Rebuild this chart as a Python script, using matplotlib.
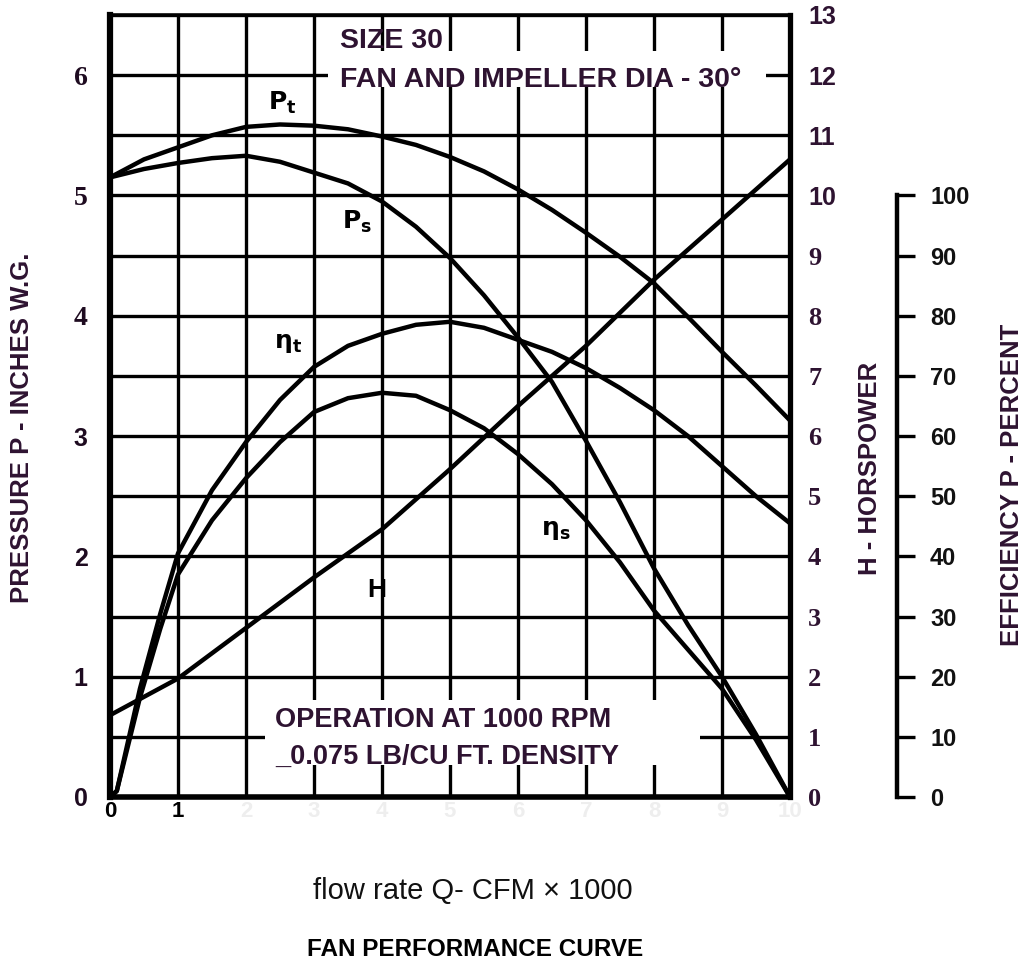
import matplotlib.pyplot as plt
import numpy as np
from matplotlib.patches import Rectangle

# flow rate, CFM x 1000
flow = [0, 0.5, 1, 1.5, 2, 2.5, 3, 3.5, 4, 4.5, 5, 5.5, 6, 6.5, 7, 7.5, 8, 8.5, 9, 9.5, 10]
# total and static pressure, inches w.g.
p_total = [5.15, 5.30, 5.40, 5.50, 5.57, 5.59, 5.58, 5.55, 5.49, 5.42, 5.32, 5.20, 5.05,
           4.88, 4.69, 4.49, 4.27, 3.99, 3.70, 3.42, 3.13]
p_static = [5.15, 5.22, 5.27, 5.31, 5.33, 5.28, 5.19, 5.10, 4.95, 4.74, 4.48, 4.17, 3.82,
            3.45, 2.96, 2.45, 1.90, 1.43, 1.00, 0.52, 0.0]

# efficiency, percent
eff_flow = [0, 0.1, 0.44, 0.74, 1, 1.5, 2, 2.5, 3, 3.5, 4, 4.5, 5, 5.5, 6, 6.5, 7, 7.5,
            8, 8.5, 9, 9.5, 10]
eff_total = [0, 1, 18, 30.5, 40.5, 51, 59, 66, 71.5, 75, 77, 78.5, 79, 78, 76, 74, 71.3,
             68, 64.3, 60, 55, 50, 45.5]
eff_static = [0, 1, 16.5, 28, 37, 46, 53, 59, 64, 66.3, 67.2, 66.7, 64.3, 61.3, 57, 52,
              46, 39, 31, 24.5, 18, 9.5, 0]

# horsepower
hp_flow = [0, 1, 2, 3, 4, 5, 6, 7, 8, 9, 10]
horsepower = [1.36, 1.97, 2.81, 3.65, 4.45, 5.45, 6.5, 7.5, 8.6, 9.6, 10.6]

x_ticks = list(range(11))
x_labels = [str(v) for v in x_ticks]
p_ticks = [0, 1, 2, 3, 4, 5, 6]
h_ticks = list(range(14))
eff_ticks = list(range(0, 101, 10))

ink = '#2e1331'
sans = 'Liberation Sans'
serif = 'Liberation Serif'

fig = plt.figure(figsize=(10.26, 9.65), dpi=100)
ax = fig.add_axes([110 / 1026, 1 - 797 / 965, 680 / 1026, 782 / 965])
ax.set_xlim(0, 10)
ax.set_ylim(0, 6.5)

# grid
ax.set_xticks(x_ticks)
ax.set_yticks(p_ticks)
ax.set_yticks(np.arange(0.5, 6.6, 1.0), minor=True)
ax.set_axisbelow(True)
ax.grid(which='both', color='black', linewidth=2.4)
ax.tick_params(which='both', length=0)
ax.tick_params(axis='y', pad=16)
ax.tick_params(axis='x', pad=3)

ax.set_xticklabels(x_labels, fontsize=16, fontweight='bold', family=sans)
for lab in ax.get_xticklabels()[2:]:
    lab.set_color('#eeeeee')
ax.set_yticklabels([str(v) for v in p_ticks], fontsize=18, fontweight='bold')
for lab, v in zip(ax.get_yticklabels(), p_ticks):
    lab.set_family(serif if v >= 4 else sans)
    lab.set_color('#1e0b20')
    if v >= 4:
        lab.set_fontsize(20)

for side, lw in [('left', 4.5), ('bottom', 4), ('right', 3.8), ('top', 2.6)]:
    ax.spines[side].set_linewidth(lw)

# white areas behind the notes
ax.add_patch(Rectangle((3.2, 5.9), 6.45, 0.3, facecolor='white', edgecolor='none', zorder=1.5))
ax.add_patch(Rectangle((2.28, 0.27), 6.4, 0.54, facecolor='white', edgecolor='none', zorder=1.5))

ax.plot(flow, p_total, color='black', linewidth=3.2, zorder=3)
ax.plot(flow, p_static, color='black', linewidth=3.2, zorder=3)

# horsepower axis
axH = ax.twinx()
axH.set_ylim(0, 13)
axH.set_yticks(h_ticks)
axH.set_yticklabels([str(v) for v in h_ticks], fontsize=19, fontweight='bold', color=ink)
for lab, v in zip(axH.get_yticklabels(), h_ticks):
    lab.set_family(sans if v >= 10 else serif)
    if v >= 10:
        lab.set_fontsize(18)
axH.tick_params(length=0, pad=13)
for s in axH.spines.values():
    s.set_visible(False)
axH.plot(hp_flow, horsepower, color='black', linewidth=3.2, zorder=3)

# efficiency axis
axE = ax.twinx()
axE.set_ylim(0, 130)
for s in axE.spines.values():
    s.set_visible(False)
axE.spines['right'].set_visible(True)
axE.spines['right'].set_position(('axes', 1.157))
axE.spines['right'].set_bounds(0, 100)
axE.spines['right'].set_linewidth(3.2)
axE.set_yticks(eff_ticks)
axE.set_yticklabels([str(v) for v in eff_ticks], fontsize=17, fontweight='bold',
                    family=sans, color='#111111')
axE.tick_params(direction='out', length=13, width=2.4, pad=11)
axE.plot(eff_flow, eff_total, color='black', linewidth=3.2, zorder=3)
axE.plot(eff_flow, eff_static, color='black', linewidth=3.2, zorder=3)

# notes inside the chart
note = dict(fontweight='bold', family=sans, color=ink, zorder=4, ha='left', va='center')
ax.text(3.38, 6.28, 'SIZE 30', fontsize=20.5, **note)
ax.text(3.38, 5.96, 'FAN AND IMPELLER DIA - 30\u00b0', fontsize=20.5, **note)
ax.text(2.43, 0.64, 'OPERATION AT 1000 RPM', fontsize=19.5, **note)
ax.text(2.43, 0.33, '_0.075 LB/CU FT. DENSITY', fontsize=19.5, **note)

curve_lab = dict(fontsize=18, color='black', ha='center', va='center', zorder=4)
ax.text(2.54, 5.77, r'$\mathbf{P_t}$', **curve_lab)
ax.text(3.63, 4.78, r'$\mathbf{P_s}$', **curve_lab)
ax.text(2.62, 3.77, r'$\mathbf{\eta_t}$', **curve_lab)
ax.text(6.56, 2.22, r'$\mathbf{\eta_s}$', **curve_lab)
ax.text(3.93, 1.72, 'H', fontsize=19, fontweight='bold', family=sans, color='black',
        ha='center', va='center', zorder=4)

# axis titles
lab = dict(fontweight='bold', family=sans, color=ink, rotation=90, ha='center', va='center')
fig.text(22 / 1026, 1 - 428 / 965, 'PRESSURE P - INCHES W.G.', fontsize=18.5, **lab)
fig.text(870 / 1026, 1 - 468 / 965, 'H - HORSPOWER', fontsize=18.5, **lab)
fig.text(1012 / 1026, 1 - 485 / 965, 'EFFICIENCY P - PERCENT', fontsize=18.5, **lab)

fig.text(473 / 1026, 1 - 891 / 965, 'flow rate Q- CFM \u00d7 1000', fontsize=21,
         family=sans, color='#111111', ha='center', va='center')
fig.text(475 / 1026, 1 - 950 / 965, 'FAN PERFORMANCE CURVE', fontsize=17.5,
         fontweight='bold', family=sans, color='black', ha='center', va='center')

fig.savefig('out.png', dpi=100)
